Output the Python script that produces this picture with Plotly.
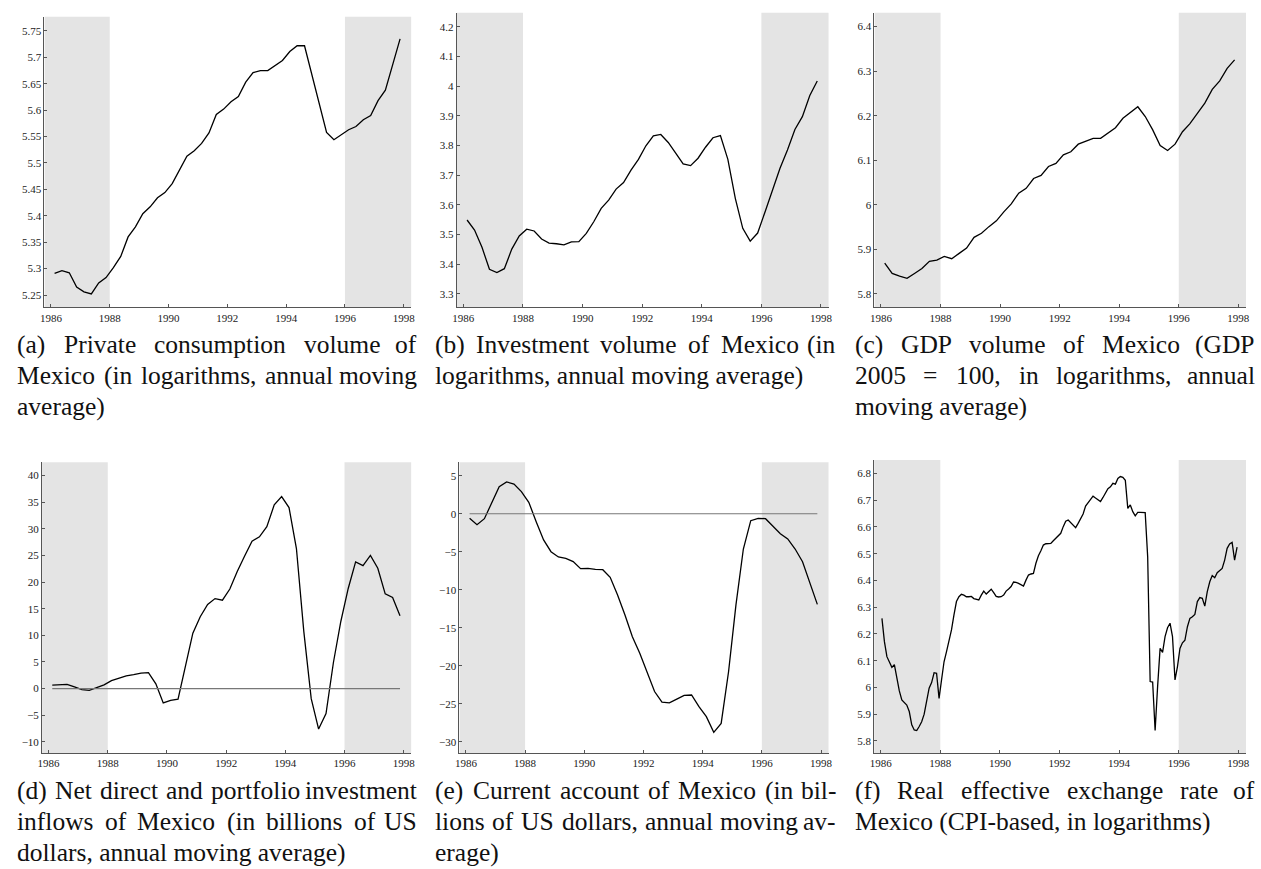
import plotly.graph_objects as go

# ---------------- data ----------------
quarter_start = 1986
monthly_start = 1986

consumption = [5.291, 5.296, 5.292, 5.265, 5.256, 5.252, 5.273, 5.283,
               5.302, 5.323, 5.360, 5.379, 5.404, 5.417, 5.434, 5.444,
               5.461, 5.486, 5.513, 5.523, 5.537, 5.557, 5.592, 5.602,
               5.616, 5.626, 5.653, 5.671, 5.675, 5.675, 5.684, 5.694,
               5.711, 5.722, 5.722, 5.667, 5.613, 5.558, 5.544, 5.553,
               5.563, 5.569, 5.582, 5.590, 5.618, 5.638, 5.687, 5.735]

investment = [3.549, 3.515, 3.457, 3.383, 3.372, 3.385, 3.451, 3.495,
              3.518, 3.512, 3.485, 3.471, 3.469, 3.465, 3.475, 3.476,
              3.504, 3.543, 3.588, 3.616, 3.653, 3.675, 3.717, 3.753,
              3.799, 3.832, 3.837, 3.810, 3.774, 3.738, 3.732, 3.757,
              3.794, 3.826, 3.833, 3.753, 3.622, 3.521, 3.478, 3.505,
              3.577, 3.650, 3.723, 3.785, 3.854, 3.897, 3.968, 4.017]

gdp = [5.869, 5.846, 5.840, 5.835, 5.846, 5.857, 5.873, 5.876,
       5.884, 5.879, 5.891, 5.903, 5.927, 5.936, 5.951, 5.964,
       5.984, 6.002, 6.026, 6.037, 6.059, 6.066, 6.086, 6.093,
       6.112, 6.119, 6.136, 6.142, 6.149, 6.149, 6.161, 6.173,
       6.194, 6.206, 6.220, 6.198, 6.168, 6.133, 6.122, 6.136,
       6.164, 6.182, 6.206, 6.228, 6.259, 6.278, 6.306, 6.325]

net_inflows = [0.65, 0.7, 0.8, 0.3, -0.2, -0.35, 0.15, 0.7,
               1.5, 2.0, 2.4, 2.6, 2.9, 3.0, 0.9, -2.7,
               -2.2, -2.0, 4.4, 10.4, 13.5, 15.8, 16.9, 16.6,
               18.7, 22.0, 24.9, 27.7, 28.5, 30.4, 34.5, 36.05,
               34.0, 26.3, 10.7, -1.9, -7.6, -4.7, 4.9, 12.6,
               18.8, 23.8, 23.1, 25.0, 22.6, 17.8, 17.1, 13.7]

current_account = [-0.61, -1.45, -0.66, 1.5, 3.55, 4.17, 3.9, 2.9,
                   1.5, -1.05, -3.45, -5.0, -5.7, -5.88, -6.3, -7.24,
                   -7.19, -7.32, -7.37, -8.38, -10.7, -13.33, -16.18, -18.38,
                   -20.8, -23.4, -24.8, -24.9, -24.4, -23.9, -23.86, -25.4,
                   -26.7, -28.77, -27.6, -20.8, -12.0, -4.65, -0.92, -0.61,
                   -0.66, -1.58, -2.63, -3.33, -4.65, -6.32, -9.17, -11.93]

reer = [6.258, 6.171, 6.115, 6.096, 6.075, 6.085, 6.028, 5.987, 5.953, 5.943, 5.934, 5.910,
        5.860, 5.841, 5.839, 5.854, 5.872, 5.900, 5.953, 5.997, 6.018, 6.055, 6.053, 5.959,
        6.028, 6.096, 6.134, 6.171, 6.215, 6.271, 6.321, 6.339, 6.348, 6.345, 6.339, 6.339,
        6.340, 6.332, 6.328, 6.327, 6.345, 6.360, 6.349, 6.357, 6.367, 6.354, 6.340, 6.338,
        6.339, 6.345, 6.360, 6.368, 6.377, 6.394, 6.393, 6.389, 6.384, 6.379, 6.401, 6.420,
        6.424, 6.426, 6.464, 6.492, 6.511, 6.532, 6.537, 6.537, 6.538, 6.548, 6.558, 6.566,
        6.576, 6.601, 6.621, 6.626, 6.616, 6.603, 6.597, 6.613, 6.632, 6.648, 6.678, 6.690,
        6.703, 6.715, 6.708, 6.703, 6.695, 6.710, 6.729, 6.743, 6.750, 6.763, 6.760, 6.781,
        6.788, 6.785, 6.774, 6.669, 6.682, 6.657, 6.641, 6.654, 6.654, 6.654, 6.653, 6.489,
        6.022, 6.020, 5.839, 6.003, 6.146, 6.131, 6.190, 6.223, 6.240, 6.190, 6.028, 6.078,
        6.146, 6.167, 6.177, 6.227, 6.258, 6.264, 6.273, 6.321, 6.336, 6.333, 6.304, 6.358,
        6.395, 6.418, 6.410, 6.429, 6.439, 6.445, 6.476, 6.520, 6.536, 6.542, 6.476, 6.524]

x_tick_vals = [1986, 1988, 1990, 1992, 1994, 1996, 1998]
x_tick_text = ["1986", "1988", "1990", "1992", "1994", "1996", "1998"]

yt_a = [5.25, 5.3, 5.35, 5.4, 5.45, 5.5, 5.55, 5.6, 5.65, 5.7, 5.75]
yl_a = ["5.25", "5.3", "5.35", "5.4", "5.45", "5.5", "5.55", "5.6", "5.65", "5.7", "5.75"]
yt_b = [3.3, 3.4, 3.5, 3.6, 3.7, 3.8, 3.9, 4.0, 4.1, 4.2]
yl_b = ["3.3", "3.4", "3.5", "3.6", "3.7", "3.8", "3.9", "4", "4.1", "4.2"]
yt_c = [5.8, 5.9, 6.0, 6.1, 6.2, 6.3, 6.4]
yl_c = ["5.8", "5.9", "6", "6.1", "6.2", "6.3", "6.4"]
yt_d = [-10, -5, 0, 5, 10, 15, 20, 25, 30, 35, 40]
yl_d = ["\u221210", "\u22125", "0", "5", "10", "15", "20", "25", "30", "35", "40"]
yt_e = [-30, -25, -20, -15, -10, -5, 0, 5]
yl_e = ["\u221230", "\u221225", "\u221220", "\u221215", "\u221210", "\u22125", "0", "5"]
yt_f = [5.8, 5.9, 6.0, 6.1, 6.2, 6.3, 6.4, 6.5, 6.6, 6.7, 6.8]
yl_f = ["5.8", "5.9", "6", "6.1", "6.2", "6.3", "6.4", "6.5", "6.6", "6.7", "6.8"]

shade_periods = [(None, 1988), (1996, None)]

captions = {
    "a": ["(a) Private consumption volume of", "Mexico (in logarithms, annual moving", "average)"],
    "b": ["(b) Investment volume of Mexico (in", "logarithms, annual moving average)"],
    "c": ["(c) GDP volume of Mexico (GDP", "2005 = 100, in logarithms, annual", "moving average)"],
    "d": ["(d) Net direct and portfolio investment", "inflows of Mexico (in billions of US", "dollars, annual moving average)"],
    "e": ["(e) Current account of Mexico (in bil-", "lions of US dollars, annual moving av-", "erage)"],
    "f": ["(f) Real effective exchange rate of", "Mexico (CPI-based, in logarithms)"],
}

# ---------------- layout geometry ----------------
W, H = 1261, 869
XR = [1985.78, 1998.26]
SERIF = "Liberation Serif, Times New Roman, serif"
CAP_SIZE = 25.5
LINE_H = 31.0
COL_W = 405

# approximate Times metrics (1/1000 em), used only to justify caption lines
TW = {" ": 250, "(": 333, ")": 333, ",": 250, "-": 333, ".": 250, "=": 564}
TW.update({d: 500 for d in "0123456789"})
TW.update(dict(zip("abcdefghijklmnopqrstuvwxyz",
                   [444, 500, 444, 500, 444, 333, 500, 500, 278, 278, 500, 278, 778,
                    500, 500, 500, 500, 333, 389, 278, 500, 500, 722, 500, 500, 444])))
TW.update(dict(zip("ABCDEFGHIJKLMNOPQRSTUVWXYZ",
                   [722, 667, 667, 722, 611, 556, 722, 722, 333, 389, 722, 611, 889,
                    722, 722, 556, 722, 667, 556, 611, 722, 722, 944, 722, 722, 611])))


def text_w(s):
    return sum(TW.get(ch, 500) for ch in s) / 1000.0 * CAP_SIZE


qx = [quarter_start + (k + 0.5) / 4 for k in range(len(consumption))]
mx = [monthly_start + (k + 0.5) / 12 for k in range(len(reer))]

panels = [
    ("a", qx, consumption, (40.7, 410), (16.7, 307.3), [5.2267, 5.777], yt_a, yl_a, False),
    ("b", qx, investment, (455.7, 830), (12.7, 307.3), [3.255, 4.247], yt_b, yl_b, False),
    ("c", qx, gdp, (876, 1250), (12.7, 307.3), [5.770, 6.431], yt_c, yl_c, False),
    ("d", qx, net_inflows, (38.3, 410), (462.3, 753), [-12.1, 42.5], yt_d, yl_d, True),
    ("e", qx, current_account, (458.3, 830), (462.3, 753), [-31.49, 6.76], yt_e, yl_e, True),
    ("f", mx, reer, (875.7, 1250), (460, 753), [5.755, 6.85], yt_f, yl_f, False),
]

# (column left px, first baseline px)
caption_pos = {
    "a": (12, 353.5), "b": (433, 353.5), "c": (855, 353.5),
    "d": (12, 799), "e": (433, 799), "f": (855, 799),
}

fig = go.Figure()
layout = dict(
    width=W, height=H, autosize=False,
    margin=dict(l=0, r=0, t=0, b=0),
    paper_bgcolor="white", plot_bgcolor="rgba(0,0,0,0)",
    showlegend=False,
    font=dict(family=SERIF, color="#222"),
    shapes=[], annotations=[],
)


def add_text(txt, xpx, ypx_base, anchor="left"):
    layout["annotations"].append(dict(
        xref="paper", yref="paper", x=xpx / W, y=1 - (ypx_base - 0.335 * CAP_SIZE) / H,
        xanchor=anchor, yanchor="middle", showarrow=False, text=txt, borderpad=0,
        font=dict(family=SERIF, size=CAP_SIZE, color="#111")))


for i, (key, xs, ys, (l, r), (t, b), yr, ytv, ytt, zero) in enumerate(panels):
    n = "" if i == 0 else str(i + 1)
    xa, ya = "x" + n, "y" + n
    fig.add_trace(go.Scatter(x=xs, y=ys, mode="lines", xaxis=xa, yaxis=ya,
                             line=dict(color="black", width=1.3), hoverinfo="skip"))
    if zero:
        fig.add_trace(go.Scatter(x=[xs[0], xs[-1]], y=[0, 0], mode="lines", xaxis=xa, yaxis=ya,
                                 line=dict(color="#777777", width=1.1), hoverinfo="skip"))
    common = dict(showgrid=False, zeroline=False, showline=True, linecolor="#555555",
                  linewidth=1, ticks="inside", ticklen=3, tickcolor="#555555",
                  tickfont=dict(family=SERIF, size=11, color="#222"), fixedrange=True)
    layout["xaxis" + n] = dict(domain=[l / W, r / W], range=XR, anchor=ya,
                               tickvals=x_tick_vals, ticktext=x_tick_text, **common)
    layout["yaxis" + n] = dict(domain=[1 - b / H, 1 - t / H], range=yr, anchor=xa,
                               tickvals=ytv, ticktext=ytt, **common)
    for (s0, s1) in shade_periods:
        layout["shapes"].append(dict(
            type="rect", xref=xa, yref=ya + " domain",
            x0=XR[0] if s0 is None else s0, x1=XR[1] if s1 is None else s1,
            y0=0, y1=1, fillcolor="#e4e4e4", line=dict(width=0), layer="below"))

    # justified caption (last line ragged)
    cx, cy = caption_pos[key]
    lines = captions[key]
    for j, txt in enumerate(lines):
        base = cy + j * LINE_H
        if j == len(lines) - 1:
            add_text(txt, cx, base)
            continue
        words = txt.split(" ")
        widths = [text_w(w_) for w_ in words]
        gap = (COL_W - sum(widths)) / (len(words) - 1)
        xpos = cx
        for k, (wd, ww) in enumerate(zip(words, widths)):
            if k == len(words) - 1:
                add_text(wd, cx + COL_W, base, anchor="right")
            else:
                add_text(wd, xpos, base)
            xpos += ww + gap

fig.update_layout(**layout)
fig.write_html("out.html", config={"displayModeBar": False},
               post_script="document.body.style.margin='0px';document.body.style.overflow='hidden';")
